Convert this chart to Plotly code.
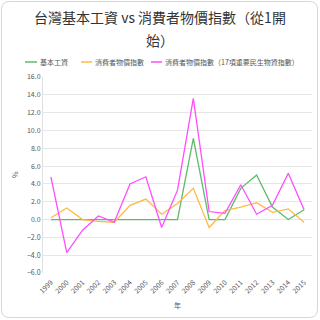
import plotly.graph_objects as go

years = [str(y) for y in range(1999, 2016)]
wage = [0, 0, 0, 0, 0, 0, 0, 0, 0, 9.1, 0, 0, 3.5, 5.0, 1.4, 0, 1.1]
cpi = [0.2, 1.3, 0.0, -0.2, -0.3, 1.6, 2.3, 0.6, 1.8, 3.5, -0.9, 1.0, 1.4, 1.9, 0.8, 1.2, -0.3]
cpi17 = [4.8, -3.7, -1.2, 0.4, -0.3, 4.0, 4.8, -0.9, 3.3, 13.6, 0.9, 0.7, 3.9, 0.6, 1.6, 5.2, 1.1]
series_names = ["基本工資", "消費者物價指數", "消費者物價指數（17項重要民生物資指數）"]
colors = ["#5dbb6a", "#ffb944", "#ff4dff"]

FONT = "Noto Sans CJK TC, Noto Sans, sans-serif"
L, R, T, B = 43, 8, 77, 47
W, H = 320, 320
PW, PH = W - L - R, H - T - B


def px(X):
    return (X - L) / PW


def py(Y):
    return (H - B - Y) / PH


fig = go.Figure()
for name, vals, col in zip(series_names, [wage, cpi, cpi17], colors):
    fig.add_trace(go.Scatter(x=years, y=vals, mode="lines", name=name,
                             line=dict(color=col, width=1.3), showlegend=False))

shapes = []
# card border with rounded corners
x0, y0, x1, y1, r = 1.5, 1.5, 317.5, 317.5, 8
pts = [
    f"M {px(x0 + r)},{py(y0)}",
    f"L {px(x1 - r)},{py(y0)}",
    f"Q {px(x1)},{py(y0)} {px(x1)},{py(y0 + r)}",
    f"L {px(x1)},{py(y1 - r)}",
    f"Q {px(x1)},{py(y1)} {px(x1 - r)},{py(y1)}",
    f"L {px(x0 + r)},{py(y1)}",
    f"Q {px(x0)},{py(y1)} {px(x0)},{py(y1 - r)}",
    f"L {px(x0)},{py(y0 + r)}",
    f"Q {px(x0)},{py(y0)} {px(x0 + r)},{py(y0)} Z",
]
shapes.append(dict(type="path", path=" ".join(pts), xref="paper", yref="paper",
                   line=dict(color="#d6d6d6", width=1), fillcolor="rgba(0,0,0,0)", layer="below"))

annotations = []
# title
annotations.append(dict(text="台灣基本工資 vs 消費者物價指數（從1開", x=px(160), y=py(17),
                        xref="paper", yref="paper", showarrow=False, xanchor="center", yanchor="middle",
                        font=dict(family=FONT, size=14, color="#333333")))
annotations.append(dict(text="始）", x=px(160), y=py(40),
                        xref="paper", yref="paper", showarrow=False, xanchor="center", yanchor="middle",
                        font=dict(family=FONT, size=14, color="#333333")))
# legend
leg = [(25, 37), (81, 92), (151, 162)]
for (a, b), name, col in zip(leg, series_names, colors):
    shapes.append(dict(type="line", xref="paper", yref="paper", x0=px(a), x1=px(b),
                       y0=py(62), y1=py(62), line=dict(color=col, width=1.5)))
    annotations.append(dict(text=name, x=px(b + 1), y=py(62), xref="paper", yref="paper",
                            showarrow=False, xanchor="left", yanchor="middle",
                            font=dict(family=FONT, size=7, color="#555555")))
# axis titles
annotations.append(dict(text="%", x=px(15), y=py(175), xref="paper", yref="paper", showarrow=False,
                        textangle=-90, xanchor="center", yanchor="middle",
                        font=dict(family=FONT, size=7, color="#555555")))
annotations.append(dict(text="年", x=px(177), y=py(305), xref="paper", yref="paper", showarrow=False,
                        xanchor="center", yanchor="middle",
                        font=dict(family=FONT, size=7, color="#555555")))

fig.update_layout(
    width=W, height=H,
    margin=dict(l=L, r=R, t=T, b=B),
    paper_bgcolor="white", plot_bgcolor="white",
    font=dict(family=FONT, size=7, color="#555555"),
    shapes=shapes, annotations=annotations,
    showlegend=False,
    xaxis=dict(type="category", range=[-0.5, 16.5], showgrid=False, zeroline=False,
               tickangle=-45, ticks="", ticklabelstandoff=3,
               tickfont=dict(size=7, color="#555555"), fixedrange=True),
    yaxis=dict(range=[-6, 16], dtick=2, tickformat=".1f", showgrid=True, gridcolor="#e6e6e6",
               gridwidth=1, zeroline=False, showline=True, linecolor="#e0e0e0", linewidth=1,
               ticks="", tickfont=dict(size=7, color="#555555"), fixedrange=True),
)

fig.write_html("out.html")
